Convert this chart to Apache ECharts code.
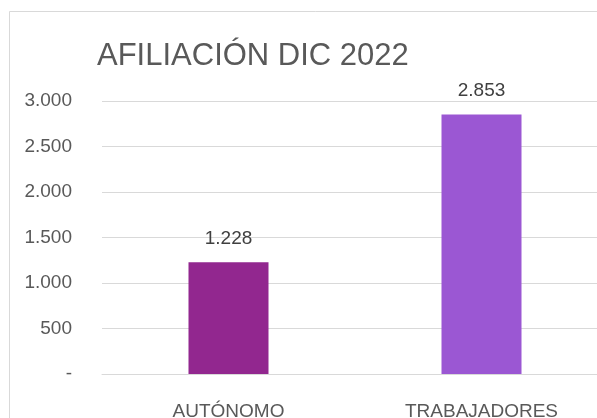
<!DOCTYPE html>
<html><head><meta charset="utf-8">
<script src="https://cdn.jsdelivr.net/npm/echarts@6/dist/echarts.min.js"></script>
<style>html,body{margin:0;padding:0;background:#fff;overflow:hidden;width:597px;height:418px}#c{width:620px;height:418px}</style>
</head><body><div id="c"></div>
<script>
const titleText = 'AFILIACIÓN DIC 2022';
const categories = ['AUTÓNOMO', 'TRABAJADORES'];
const values = [1228, 2853];
const barColors = ['#92278F', '#9B57D3'];
const yMin = 0, yMax = 3000, yInterval = 500;

function fmt(v) {
  if (v === 0) return '-';
  return String(v).replace(/\B(?=(\d{3})+(?!\d))/g, '.');
}
const FONT = '"Liberation Sans Narrow", "Arial Narrow", "Liberation Sans", sans-serif';
const chart = echarts.init(document.getElementById('c'), null, {renderer: 'canvas'});
chart.setOption({
  animation: false,
  backgroundColor: '#fff',
  graphic: [{
    type: 'rect', shape: {x: 9.5, y: 11.5, width: 640, height: 440},
    style: {fill: 'none', stroke: '#d9d9d9', lineWidth: 1}, silent: true, z: -1
  }],
  title: {
    text: titleText, left: 92, top: 36,
    textStyle: {fontFamily: FONT, fontSize: 31, fontWeight: 'normal', color: '#595959'}
  },
  grid: {left: 102, top: 101, right: 12, bottom: 44, containLabel: false, outerBoundsMode: 'none'},
  xAxis: {
    type: 'category', data: categories,
    axisLine: {show: true, lineStyle: {color: '#d9d9d9', width: 1}},
    axisTick: {show: false},
    axisLabel: {fontFamily: FONT, fontSize: 19, color: '#595959', margin: 28}
  },
  yAxis: {
    type: 'value', min: yMin, max: yMax, interval: yInterval,
    axisLine: {show: false}, axisTick: {show: false},
    splitLine: {lineStyle: {color: '#d9d9d9', width: 1}},
    axisLabel: {fontFamily: FONT, fontSize: 19, color: '#595959', margin: 30, formatter: fmt}
  },
  series: [{
    type: 'bar', barWidth: 80,
    data: values.map((v, i) => ({value: v, itemStyle: {color: barColors[i]}})),
    label: {
      show: true, position: 'top', distance: 14,
      fontFamily: FONT, fontSize: 19, color: '#404040',
      formatter: p => fmt(p.value)
    }
  }]
});
</script></body></html>
